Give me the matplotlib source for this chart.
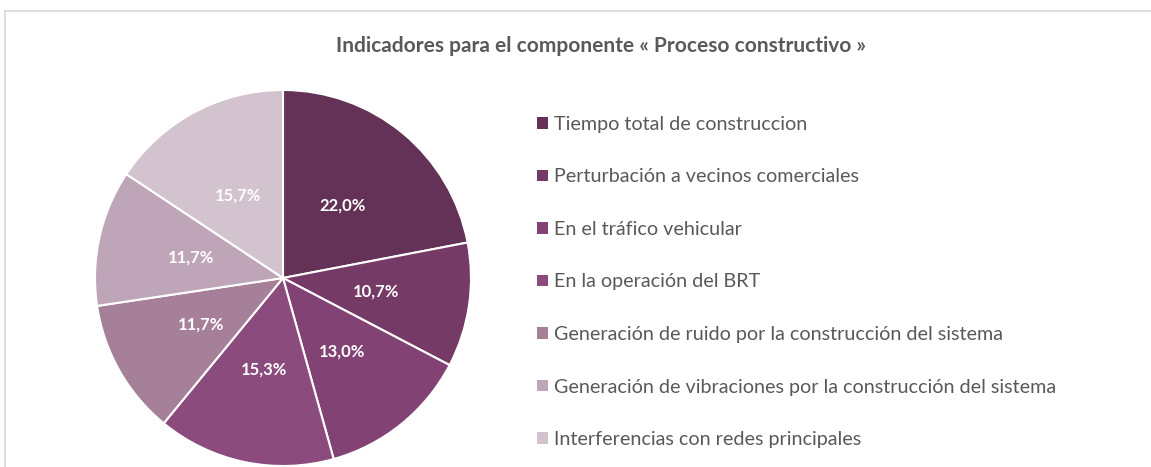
import matplotlib
matplotlib.use("Agg")
import matplotlib.pyplot as plt
from matplotlib.lines import Line2D

# Indicator shares for the "Proceso constructivo" component
categories = [
    "Tiempo total de construccion",
    "Perturbación a vecinos comerciales",
    "En el tráfico vehicular",
    "En la operación del BRT",
    "Generación de ruido por la construcción del sistema",
    "Generación de vibraciones por la construcción del sistema",
    "Interferencias con redes principales",
]
shares = [22.0, 10.7, 13.0, 15.3, 11.7, 11.7, 15.7]
colors = ["#633256", "#763A66", "#824374", "#8C4B7D", "#A67F99", "#BFA5B8", "#D2C3CF"]

title = "Indicadores para el componente « Proceso constructivo »"

W, H = 1151, 467
fig = plt.figure(figsize=(W / 100, H / 100), dpi=100)
fig.patch.set_facecolor("white")

plt.rcParams["font.family"] = ["Lato", "DejaVu Sans"]

# chart area border (left and top edges visible)
fig.add_artist(Line2D([5 / W, 5 / W], [0, 1 - 11 / H], color="#D9D9D9", lw=1.2))
fig.add_artist(Line2D([5 / W, 1], [1 - 11 / H, 1 - 11 / H], color="#D9D9D9", lw=1.2))

# pie axes
cx, cy, r = 283, 278, 188
ax = fig.add_axes([(cx - r) / W, (H - cy - r) / H, 2 * r / W, 2 * r / H])
wedges, texts, autotexts = ax.pie(
    shares,
    colors=colors,
    startangle=90,
    counterclock=False,
    autopct=lambda p: "",
    pctdistance=0.5,
    wedgeprops=dict(edgecolor="white", linewidth=1.5),
)
for t, v in zip(autotexts, shares):
    t.set_text(f"{v:.1f}%".replace(".", ","))
    t.set_color("white")
    t.set_fontsize(12)
    t.set_fontweight("bold")
ax.set_xlim(-1, 1)
ax.set_ylim(-1, 1)
ax.set_aspect("equal")
ax.axis("off")

fig.text(0.5 * (337 + 865) / W, 1 - 46 / H, title, ha="center", va="center",
         fontsize=15, fontweight="bold", color="#595959")

# legend
leg = fig.legend(
    wedges, categories,
    loc="upper left",
    bbox_to_anchor=(537 / W, 1 - 116 / H),
    frameon=False,
    fontsize=14.2,
    handlelength=0.55,
    handleheight=0.55,
    handletextpad=0.32,
    labelspacing=1.80,
    borderaxespad=0,
    borderpad=0,
)
for t in leg.get_texts():
    t.set_color("#595959")
for h in leg.legend_handles:
    h.set_edgecolor("none")

fig.savefig("out.png", dpi=100, facecolor="white")
